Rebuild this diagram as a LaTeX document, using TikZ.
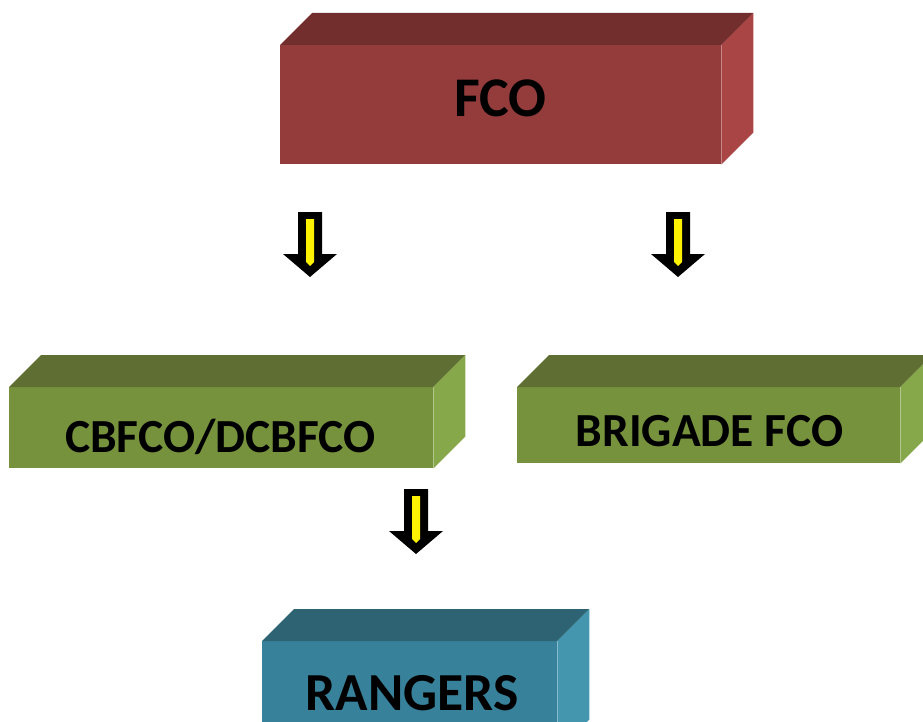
\documentclass[tikz,border=0pt]{standalone}
\usepackage{fontspec}
\setmainfont{Carlito}
\definecolor{fcoFront}{HTML}{943B3B}
\definecolor{fcoTop}{HTML}{722D2D}
\definecolor{fcoSide}{HTML}{A94545}
\definecolor{grFront}{HTML}{77923C}
\definecolor{grTop}{HTML}{5F6F34}
\definecolor{grSide}{HTML}{86A84B}
\definecolor{tlFront}{HTML}{37819A}
\definecolor{tlTop}{HTML}{2D6373}
\definecolor{tlSide}{HTML}{4496AE}
\newcommand\boxfaces[3]{%
  \fill[#2] (#1.north west) -- ++(32,-32) -- ([shift={(32,-32)}]#1.north east) -- (#1.north east) -- cycle;
  \fill[#3] (#1.north east) -- ++(32,-32) -- ([shift={(32,-32)}]#1.south east) -- (#1.south east) -- cycle;}
\newcommand\blockarrow[1]{%
  \fill[black] (#1) ++(-12,0) -- ++(24,0) -- ++(0,42) -- ++(15,0) -- ++(-27,23) -- ++(-27,-23) -- ++(15,0) -- cycle;
  \fill[yellow] (#1) ++(-4,7) -- ++(8,0) -- ++(0,43) -- ++(-4,4) -- ++(-4,-4) -- cycle;}
\begin{document}
\begin{tikzpicture}[x=1pt,y=-1pt,
  front/.style={draw=none,inner sep=0pt,anchor=north west},
  lbl/.style={inner sep=0pt,anchor=base,font=\bfseries\fontsize{#1}{#1}\selectfont,text=black}]
\useasboundingbox (0,0) rectangle (923,722);
\clip (0,0) rectangle (923,722);
% FCO
\node[front,fill=fcoFront,minimum width=441pt,minimum height=119pt] (fco) at (280,45) {};
\boxfaces{fco}{fcoTop}{fcoSide}
\node[lbl=56] (fcot) at (500.5,117) {FCO};
% CBFCO
\node[front,fill=grFront,minimum width=424pt,minimum height=81pt] (cb) at (9,387) {};
\boxfaces{cb}{grTop}{grSide}
\node[lbl=47.5] (cbt) at (220.5,452) {CBFCO/DCBFCO};
% Brigade
\node[front,fill=grFront,minimum width=383pt,minimum height=76pt] (bf) at (517,387) {};
\boxfaces{bf}{grTop}{grSide}
\node[lbl=47.5] (bft) at (709.5,446) {BRIGADE FCO};
% Rangers
\node[front,fill=tlFront,minimum width=295pt,minimum height=110pt] (rg) at (262,641) {};
\boxfaces{rg}{tlTop}{tlSide}
\node[lbl=53.5] (rgt) at (412,710) {RANGERS};
% arrows
\coordinate (a1) at (310,212);
\coordinate (a2) at (678,212);
\coordinate (a3) at (416,489);
\blockarrow{a1}
\blockarrow{a2}
\blockarrow{a3}
\end{tikzpicture}
\end{document}
